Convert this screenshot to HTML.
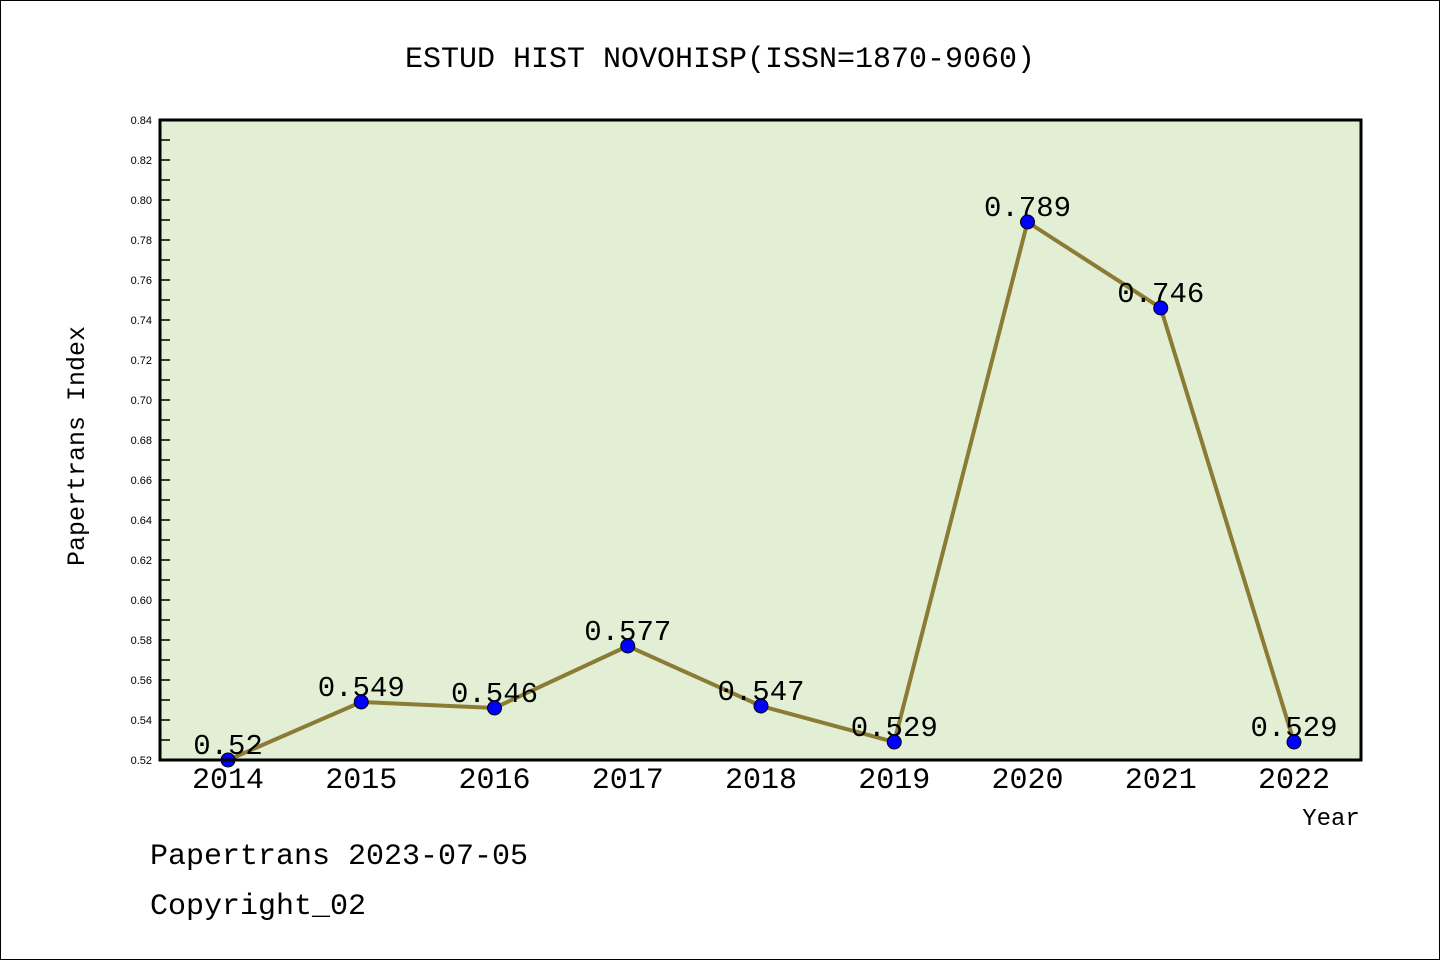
<!DOCTYPE html>
<html><head><meta charset="utf-8"><style>
body{margin:0;background:#fff;}
svg{display:block;font-family:"Liberation Mono",monospace;}
</style></head><body>
<svg id="chart" width="1440" height="960">
<rect x="0.5" y="0.5" width="1439" height="959" fill="#fff" stroke="#000"/>
<text x="720" y="67" font-size="30" text-anchor="middle">ESTUD HIST NOVOHISP(ISSN=1870-9060)</text>
<rect x="160" y="120" width="1201" height="640" fill="#e2efd5"/>
<g id="yaxis"></g>
<g id="xaxis"></g>
<g id="series"></g>
<rect x="160" y="120" width="1201" height="640" fill="none" stroke="#000" stroke-width="3"/>
<text x="84" y="446" font-size="25" text-anchor="middle" transform="rotate(-90 84 446)">Papertrans Index</text>
<text x="1331" y="825" font-size="24" text-anchor="middle">Year</text>
<text x="150" y="864" font-size="30">Papertrans 2023-07-05</text>
<text x="150" y="914" font-size="30">Copyright_02</text>
</svg>
<script>
const categories=["2014","2015","2016","2017","2018","2019","2020","2021","2022"];
const values=[0.52,0.549,0.546,0.577,0.547,0.529,0.789,0.746,0.529];
const valueLabels=["0.52","0.549","0.546","0.577","0.547","0.529","0.789","0.746","0.529"];
const yTicks=[0.52,0.54,0.56,0.58,0.60,0.62,0.64,0.66,0.68,0.70,0.72,0.74,0.76,0.78,0.80,0.82,0.84];
const NS="http://www.w3.org/2000/svg";
const yMin=0.52,yMax=0.84,yTopPx=120,yBotPx=760;
function y(v){return yBotPx-(v-yMin)/(yMax-yMin)*(yBotPx-yTopPx);}
function x(i){return 228+i*(1294-228)/(categories.length-1);}
function mk(t,a,p){const e=document.createElementNS(NS,t);for(const k in a)e.setAttribute(k,a[k]);p.appendChild(e);return e;}
const ya=document.getElementById('yaxis'),xa=document.getElementById('xaxis'),se=document.getElementById('series');
yTicks.forEach((v,i)=>{
  const l=mk('line',{x1:160,x2:170,y1:y(v),y2:y(v),stroke:'#000','stroke-width':1.5},ya);
  
  
  if(i<yTicks.length-1){const m=mk('line',{x1:160,x2:170,y1:y(v+0.01),y2:y(v+0.01),stroke:'#000','stroke-width':1.5},ya);
  
  }
  const t=mk('text',{x:152,y:y(v)+4,'font-size':11,'text-anchor':'end','font-family':'Liberation Sans, sans-serif'},ya);t.textContent=v.toFixed(2);
  
  
});
categories.forEach((c,i)=>{
  const t=mk('text',{x:x(i),y:788,'font-size':30,'text-anchor':'middle'},xa);t.textContent=c;
  
  
});
const pl=mk('polyline',{points:values.map((v,i)=>x(i)+','+y(v)).join(' '),fill:'none',stroke:'#8b7b35','stroke-width':4},se);


values.forEach((v,i)=>{
  const c=mk('circle',{cx:x(i),cy:y(v),r:7,fill:'#0000ff',stroke:'#000','stroke-width':1},se);
  
  
  const t=mk('text',{x:x(i),y:y(v)-6,'font-size':29,'text-anchor':'middle'},se);t.textContent=valueLabels[i];
  
  
});
</script>
</body></html>
